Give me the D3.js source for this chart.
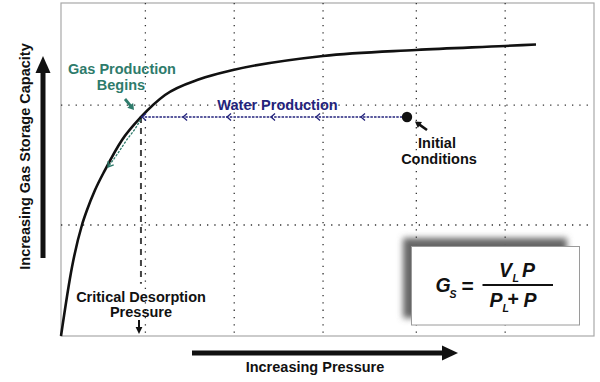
<!DOCTYPE html>
<html><head><meta charset="utf-8">
<script src="https://cdn.jsdelivr.net/npm/d3@7/dist/d3.min.js"></script>
<style>html,body{margin:0;padding:0;background:#fff}svg{display:block}</style>
</head><body>
<svg id="c" width="600" height="382"></svg>
<script>
// Langmuir isotherm (arbitrary units)
const curvePressure = [0,0.124,0.236,0.293,0.383,0.495,0.687,0.901,1.171,1.565,1.936,2.949,3.997,4.998,5.347];
const curveCapacity = [0,0.622,1.0,1.135,1.315,1.495,1.766,1.973,2.171,2.315,2.396,2.523,2.577,2.613,2.626];
const gridX = [0.95,1.95,2.95,4.0,5.0];
const gridY = [1.0,2.08];
const criticalPressure = 0.9;
const initialPressure = 3.895;
const initialCapacity = 1.973;
const waterArrowHeads = [0.912,1.374,1.869,2.364,2.871,3.377];
const gasPathPressure = [0.895,0.84,0.74,0.635,0.53];
const gasPathCapacity = [1.95,1.874,1.766,1.640,1.523];

const W=600,H=382;
const svg=d3.select('#c');
const x=d3.scaleLinear().domain([0,6]).range([61,594]);
const y=d3.scaleLinear().domain([0,3]).range([336,3]);
const font='"Liberation Sans", Arial, sans-serif';
const teal='#2e7b6b', navy='#23237c';

const defs=svg.append('defs');
const f=defs.append('filter').attr('id','blur').attr('x','-20%').attr('y','-20%').attr('width','140%').attr('height','140%');
f.append('feGaussianBlur').attr('stdDeviation',3);

// frame
svg.append('rect').attr('x',x(0)).attr('y',y(3)).attr('width',x(6)-x(0)).attr('height',y(0)-y(3))
  .attr('fill','none').attr('stroke','#a8a8a8').attr('stroke-width',1.2);

// grid
const g=svg.append('g').attr('stroke','#333').attr('stroke-width',1.3).attr('stroke-dasharray','1.3,6');
g.selectAll('.gx').data(gridX).join('line').attr('x1',d=>x(d)).attr('x2',d=>x(d)).attr('y1',y(3)).attr('y2',y(0));
g.selectAll('.gy').data(gridY).join('line').attr('y1',d=>y(d)).attr('y2',d=>y(d)).attr('x1',x(0)).attr('x2',x(5.95));

// critical desorption dashed line
svg.append('line').attr('x1',x(criticalPressure)).attr('x2',x(criticalPressure))
  .attr('y1',y(initialCapacity)).attr('y2',y(0.47)).attr('stroke','#444').attr('stroke-width',2).attr('stroke-dasharray','6,5');

// isotherm curve
const pts=curvePressure.map((p,i)=>[p,curveCapacity[i]]);
svg.append('path').datum(pts).attr('d',d3.line().x(d=>x(d[0])).y(d=>y(d[1])).curve(d3.curveMonotoneX))
  .attr('fill','none').attr('stroke','#111').attr('stroke-width',2.6);

// water production arrow line
svg.append('line').attr('x1',x(criticalPressure)).attr('x2',x(initialPressure)).attr('y1',y(initialCapacity)).attr('y2',y(initialCapacity))
  .attr('stroke',navy).attr('stroke-width',1.5).attr('stroke-dasharray','2.5,1.2');
svg.selectAll('.wh').data(waterArrowHeads).join('path')
  .attr('d',d=>{const px=x(d),py=y(initialCapacity);return `M${px+4},${py-3.5}L${px},${py}L${px+4},${py+3.5}`;})
  .attr('fill','none').attr('stroke',navy).attr('stroke-width',1.3);

// gas production path along curve
const gp=gasPathPressure.map((p,i)=>[p,gasPathCapacity[i]]);
svg.append('path').datum(gp).attr('d',d3.line().x(d=>x(d[0])).y(d=>y(d[1])).curve(d3.curveMonotoneY))
  .attr('fill','none').attr('stroke',teal).attr('stroke-width',1.3).attr('stroke-dasharray','2.5,1.3');
{
  const a=gp[gp.length-2],b=gp[gp.length-1];
  const ax=x(a[0]),ay=y(a[1]),bx=x(b[0]),by=y(b[1]);
  const ang=Math.atan2(by-ay,bx-ax);
  const L=6,s=0.6;
  svg.append('path').attr('d',`M${bx-L*Math.cos(ang-s)},${by-L*Math.sin(ang-s)}L${bx},${by}L${bx-L*Math.cos(ang+s)},${by-L*Math.sin(ang+s)}`)
    .attr('fill','none').attr('stroke',teal).attr('stroke-width',1.4);
}

// initial condition dot
svg.append('circle').attr('cx',x(initialPressure)).attr('cy',y(initialCapacity)).attr('r',5.2).attr('fill','#111');

function arrow(x1,y1,x2,y2,color,w,hl,hw){
  const ang=Math.atan2(y2-y1,x2-x1);
  const bx=x2-hl*Math.cos(ang),by=y2-hl*Math.sin(ang);
  svg.append('line').attr('x1',x1).attr('y1',y1).attr('x2',bx+Math.cos(ang)).attr('y2',by+Math.sin(ang)).attr('stroke',color).attr('stroke-width',w);
  const nx=-Math.sin(ang),ny=Math.cos(ang);
  svg.append('path').attr('d',`M${x2},${y2}L${bx+nx*hw},${by+ny*hw}L${bx-nx*hw},${by-ny*hw}Z`).attr('fill',color);
}
// pointers
arrow(427,130,415,121.5,'#111',2.6,6,3.6);
arrow(125,99,134,110,teal,2.8,6,3.8);
arrow(139,320,139,334,'#111',2,7,3.4);
// axis arrows
arrow(43,258,43,56,'#111',5,17,7.5);
arrow(192,353,458,353,'#111',5,16,7.5);

// texts
function txt(t,tx,ty,color,size,anchor){
  return svg.append('text').attr('x',tx).attr('y',ty).attr('fill',color).attr('font-family',font)
    .attr('font-weight','bold').attr('font-size',size).attr('text-anchor',anchor||'middle').text(t);
}
txt('Gas Production',122,74,teal,14.5);
txt('Begins',121,90,teal,14.5);
txt('Water Production',277.5,110,navy,14.5);
txt('Initial',437,148,'#111',14.5);
txt('Conditions',439,163.5,'#111',14.5);
txt('Critical Desorption',141,301.5,'#111',14.5);
txt('Pressure',141,316.5,'#111',14.5);
txt('Increasing Pressure',315,372,'#111',14.5);
txt('Increasing Gas Storage Capacity',0,0,'#111',14.5).attr('transform','translate(30,156.5) rotate(-90)');

// formula box
svg.append('rect').attr('x',403).attr('y',238).attr('width',164).attr('height',80).attr('fill','#666').attr('filter','url(#blur)');
svg.append('rect').attr('x',411.5).attr('y',246.5).attr('width',168).attr('height',78.5).attr('fill','#fff').attr('stroke','#9a9a9a').attr('stroke-width',1);
function ftxt(t,tx,ty,size,italic){
  return svg.append('text').attr('x',tx).attr('y',ty).attr('fill','#111').attr('font-family',font)
    .attr('font-weight','bold').attr('font-style',italic?'italic':'normal').attr('font-size',size).text(t);
}
ftxt('G',435.5,292,19.5,true);
ftxt('S',449.5,297.5,10.5,true);
ftxt('=',461.5,293,21,false);
svg.append('line').attr('x1',482.5).attr('x2',553).attr('y1',285).attr('y2',285).attr('stroke','#111').attr('stroke-width',2);
ftxt('V',499,277,19.5,true);
ftxt('L',512.5,282,10.5,true);
ftxt('P',522,277,19.5,true);
ftxt('P',489.5,306.5,19.5,true);
ftxt('L',502.5,311.5,10.5,true);
ftxt('+',507.5,306,19.5,false);
ftxt('P',523.5,306.5,19.5,true);
</script>
</body></html>
